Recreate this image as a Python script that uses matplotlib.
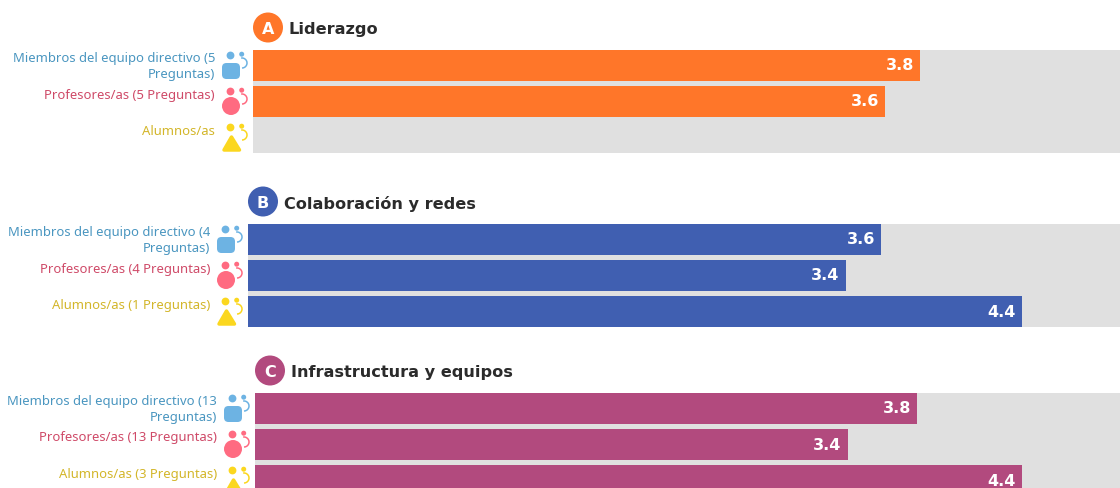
import matplotlib
matplotlib.use('Agg')
import matplotlib.pyplot as plt
from matplotlib.patches import Circle, FancyBboxPatch, Polygon, Arc

plt.rcParams['font.family'] = ['Noto Sans', 'DejaVu Sans']

# panel data
letters = ['A', 'B', 'C']
titles = ['Liderazgo', 'Colaboración y redes', 'Infrastructura y equipos']
labels_a = ['Miembros del equipo directivo (5\nPreguntas)', 'Profesores/as (5 Preguntas)', 'Alumnos/as']
labels_b = ['Miembros del equipo directivo (4\nPreguntas)', 'Profesores/as (4 Preguntas)', 'Alumnos/as (1 Preguntas)']
labels_c = ['Miembros del equipo directivo (13\nPreguntas)', 'Profesores/as (13 Preguntas)', 'Alumnos/as (3 Preguntas)']
values_a = [3.8, 3.6, None]
values_b = [3.6, 3.4, 4.4]
values_c = [3.8, 3.4, 4.4]

colors = ['#ff7629', '#405fb1', '#b24a7e']
label_colors = ['#4a96c0', '#cf4a68', '#d3b62a']
icon_colors = ['#6db3e3', '#ff6b81', '#fbd71f']

W, H = 1120, 489
# left edge, top, px per unit
x0s = [253, 248, 255]
tops = [50, 224, 393]
scales = [175.5, 175.8, 174.3]
row = 36
panel_h = 103

fig = plt.figure(figsize=(W / 100, H / 100), dpi=100)

# overlay in pixels for the icons and the header circles
ov = fig.add_axes([0, 0, 1, 1], zorder=5)
ov.set_xlim(0, W)
ov.set_ylim(H, 0)
ov.axis('off')


def draw_icon(x, y, kind):
    c = icon_colors[kind]
    ov.add_patch(Circle((x + 8.5, y + 6.5), 3.9, color=c, lw=0))
    ov.add_patch(Circle((x + 19.7, y + 5.2), 2.5, color=c, lw=0))
    ov.add_patch(Arc((x + 20, y + 14), 10, 10, theta1=-100, theta2=90, color=c, lw=1.1))
    if kind == 0:
        ov.add_patch(FancyBboxPatch((x + 3, y + 17), 12, 10, boxstyle='round,pad=3,rounding_size=4.5', lw=0, color=c))
    elif kind == 1:
        ov.add_patch(Circle((x + 9, y + 21), 9, color=c, lw=0))
    else:
        ov.add_patch(Polygon([(x + 9.5, y + 16), (x + 17.5, y + 29), (x + 2, y + 29)], closed=True,
                             fc=c, ec=c, lw=2.5, joinstyle='round'))


panels = [(labels_a, values_a), (labels_b, values_b), (labels_c, values_c)]
for i, (labels, values) in enumerate(panels):
    x0, top, px = x0s[i], tops[i], scales[i]
    ax = fig.add_axes([x0 / W, 1 - (top + 1 + panel_h) / H, (W - x0) / W, panel_h / H])
    ax.set_facecolor('#e0e0e0')
    ax.set_xlim(0, (W - x0) / px)
    ax.set_ylim(2.43, -0.43)
    ax.set_xticks([])
    ax.set_yticks([])
    for s in ax.spines.values():
        s.set_visible(False)

    for j, v in enumerate(values):
        if v is not None:
            ax.barh(j, v, height=0.86, color=colors[i])
            ax.annotate(str(v), xy=(v, j), xytext=(-6, 2), textcoords='offset pixels',
                        ha='right', va='center_baseline', color='white', fontsize=11.5,
                        fontweight='bold', family='DejaVu Sans')
        ax.annotate(labels[j], xy=(0, j), xycoords=ax.get_yaxis_transform(),
                    xytext=(-38, 14), textcoords='offset pixels', ha='right', va='top',
                    ma='right', color=label_colors[j], fontsize=9.4, linespacing=1.25)
        draw_icon(x0 - 31, top + j * row, j)

    cy = top - 22
    ov.add_patch(Circle((x0 + 15, cy + 0.5), 15, color=colors[i], lw=0))
    ov.text(x0 + 15, cy, letters[i], color='white', fontsize=11.5, fontweight='bold',
            family='DejaVu Sans', ha='center', va='center_baseline')
    ov.text(x0 + 36, cy, titles[i], color='#2b2b2b', fontsize=11.6, fontweight='bold',
            family='DejaVu Sans', ha='left', va='center_baseline')

fig.savefig('out.png', dpi=100)
